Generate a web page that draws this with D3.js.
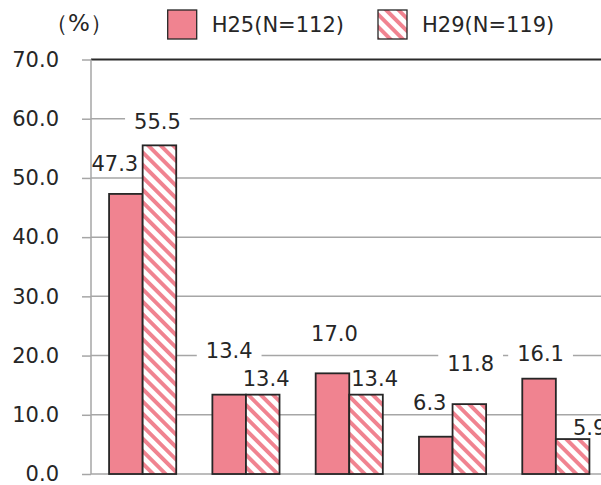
<!DOCTYPE html>
<html>
<head>
<meta charset="utf-8">
<script src="https://cdn.jsdelivr.net/npm/d3@7"></script>
<style>
  body { margin: 0; background: #fff; }
  svg { display: block; }
  text { font-family: "DejaVu Sans", sans-serif; fill: #262626; }
</style>
</head>
<body>
<script>
// ---- data ----
const categories = ["1", "2", "3", "4", "5"];
const seriesNames = ["H25(N=112)", "H29(N=119)"];
const valuesH25 = [47.3, 13.4, 17.0, 6.3, 16.1];
const valuesH29 = [55.5, 13.4, 13.4, 11.8, 5.9];
const yTickValues = [0, 10, 20, 30, 40, 50, 60, 70];
const unitLabel = "（%）";

// ---- layout & style ----
const W = 601, H = 485;
const plot = { left: 91, right: 607.5, top: 59.5, bottom: 474 };
const pink = "#F08390", ink = "#262626", gridColor = "#A6A6A6";
const fontSize = 21;
// label offsets (dx, dy) from each bar's top-centre to the label centre
const labelNudge = [
  [[-11, -31], [0, -44.7], [2, -40], [-6, -34.7], [1.5, -25.7]],
  [[-2, -23.7], [3.4, -16.7], [8.6, -16.7], [1.3, -41], [17, -12]]
];
const legendPos = [{ x: 167.7, y: 10 }, { x: 378, y: 10 }];

const seriesValues = [valuesH25, valuesH29];

const svg = d3.select("body").append("svg").attr("width", W).attr("height", H);

// diagonal hatch for the second series
const defs = svg.append("defs");
const pat = defs.append("pattern")
  .attr("id", "hatch")
  .attr("patternUnits", "userSpaceOnUse")
  .attr("width", 8.8).attr("height", 8.8)
  .attr("patternTransform", "rotate(-45)");
pat.append("rect").attr("width", 8.8).attr("height", 8.8).attr("fill", "#fff");
pat.append("rect").attr("width", 3.9).attr("height", 8.8).attr("fill", pink);
const fills = [pink, "url(#hatch)"];

// scales
const x0 = d3.scaleBand().domain(categories).range([plot.left, plot.right]);
const x1 = d3.scaleBand().domain(seriesNames)
  .range([x0.bandwidth() * 0.175, x0.bandwidth() * 0.825]);
const y = d3.scaleLinear().domain([0, 70]).range([plot.bottom, plot.top]);

const gGrid = svg.append("g");
const gBoxes = svg.append("g");
const gBars = svg.append("g");
const gAxis = svg.append("g");
const gLabels = svg.append("g");
const gLegend = svg.append("g");

// gridlines
gGrid.selectAll("line").data(yTickValues.filter(d => d < 70)).join("line")
  .attr("x1", plot.left).attr("x2", plot.right)
  .attr("y1", d => y(d)).attr("y2", d => y(d))
  .attr("stroke", gridColor).attr("stroke-width", 1.5);

// bars
const barData = [];
seriesNames.forEach((s, si) => {
  categories.forEach((c, ci) => {
    barData.push({ s, si, c, ci, v: seriesValues[si][ci] });
  });
});
gBars.selectAll("rect").data(barData).join("rect")
  .attr("x", d => x0(d.c) + x1(d.s))
  .attr("width", x1.bandwidth())
  .attr("y", d => y(d.v))
  .attr("height", d => y(0) - y(d.v))
  .attr("fill", d => fills[d.si])
  .attr("stroke", ink).attr("stroke-width", 1.8);

// top border line at the axis maximum
gAxis.append("line")
  .attr("x1", plot.left).attr("x2", plot.right)
  .attr("y1", y(70)).attr("y2", y(70))
  .attr("stroke", "#2a2a2a").attr("stroke-width", 2);

// vertical axis
gAxis.append("line")
  .attr("x1", plot.left).attr("x2", plot.left)
  .attr("y1", y(70)).attr("y2", y(0))
  .attr("stroke", gridColor).attr("stroke-width", 1.5);

const yAxis = d3.axisLeft(y)
  .tickValues(yTickValues)
  .tickSize(9)
  .tickPadding(23)
  .tickFormat(d3.format(".1f"));
const ga = gAxis.append("g").attr("transform", `translate(${plot.left},0)`).call(yAxis);
ga.select(".domain").remove();
ga.selectAll(".tick line").attr("stroke", gridColor).attr("stroke-width", 1.5);
ga.selectAll(".tick text")
  .attr("font-family", "DejaVu Sans")
  .attr("font-size", fontSize)
  .attr("fill", ink);

// value labels with white backgrounds
const fmt = d3.format(".1f");
barData.forEach(d => {
  const [dx, dy] = labelNudge[d.si][d.ci];
  const cx = x0(d.c) + x1(d.s) + x1.bandwidth() / 2 + dx;
  const cy = y(d.v) + dy;
  const t = gLabels.append("text")
    .attr("x", cx).attr("y", cy + 7.6)
    .attr("text-anchor", "middle")
    .attr("font-size", fontSize)
    .text(fmt(d.v));
  const w = t.node().getComputedTextLength();
  gBoxes.append("rect")
    .attr("x", cx - w / 2 - 9).attr("y", cy - 10)
    .attr("width", w + 18).attr("height", 20)
    .attr("fill", "#fff");
});

// legend
seriesNames.forEach((s, i) => {
  const p = legendPos[i];
  gLegend.append("rect")
    .attr("x", p.x).attr("y", p.y).attr("width", 29).attr("height", 29)
    .attr("fill", fills[i]).attr("stroke", ink).attr("stroke-width", 1.3);
  gLegend.append("text")
    .attr("x", p.x + 44).attr("y", p.y + 14.5 + 7.6)
    .attr("font-size", fontSize)
    .text(s);
});

// unit label
svg.append("text")
  .attr("x", 79).attr("y", 31)
  .attr("text-anchor", "middle")
  .attr("font-family", "Noto Sans CJK JP")
  .attr("font-weight", 500)
  .attr("font-size", 23)
  .text(unitLabel);
</script>
</body>
</html>
